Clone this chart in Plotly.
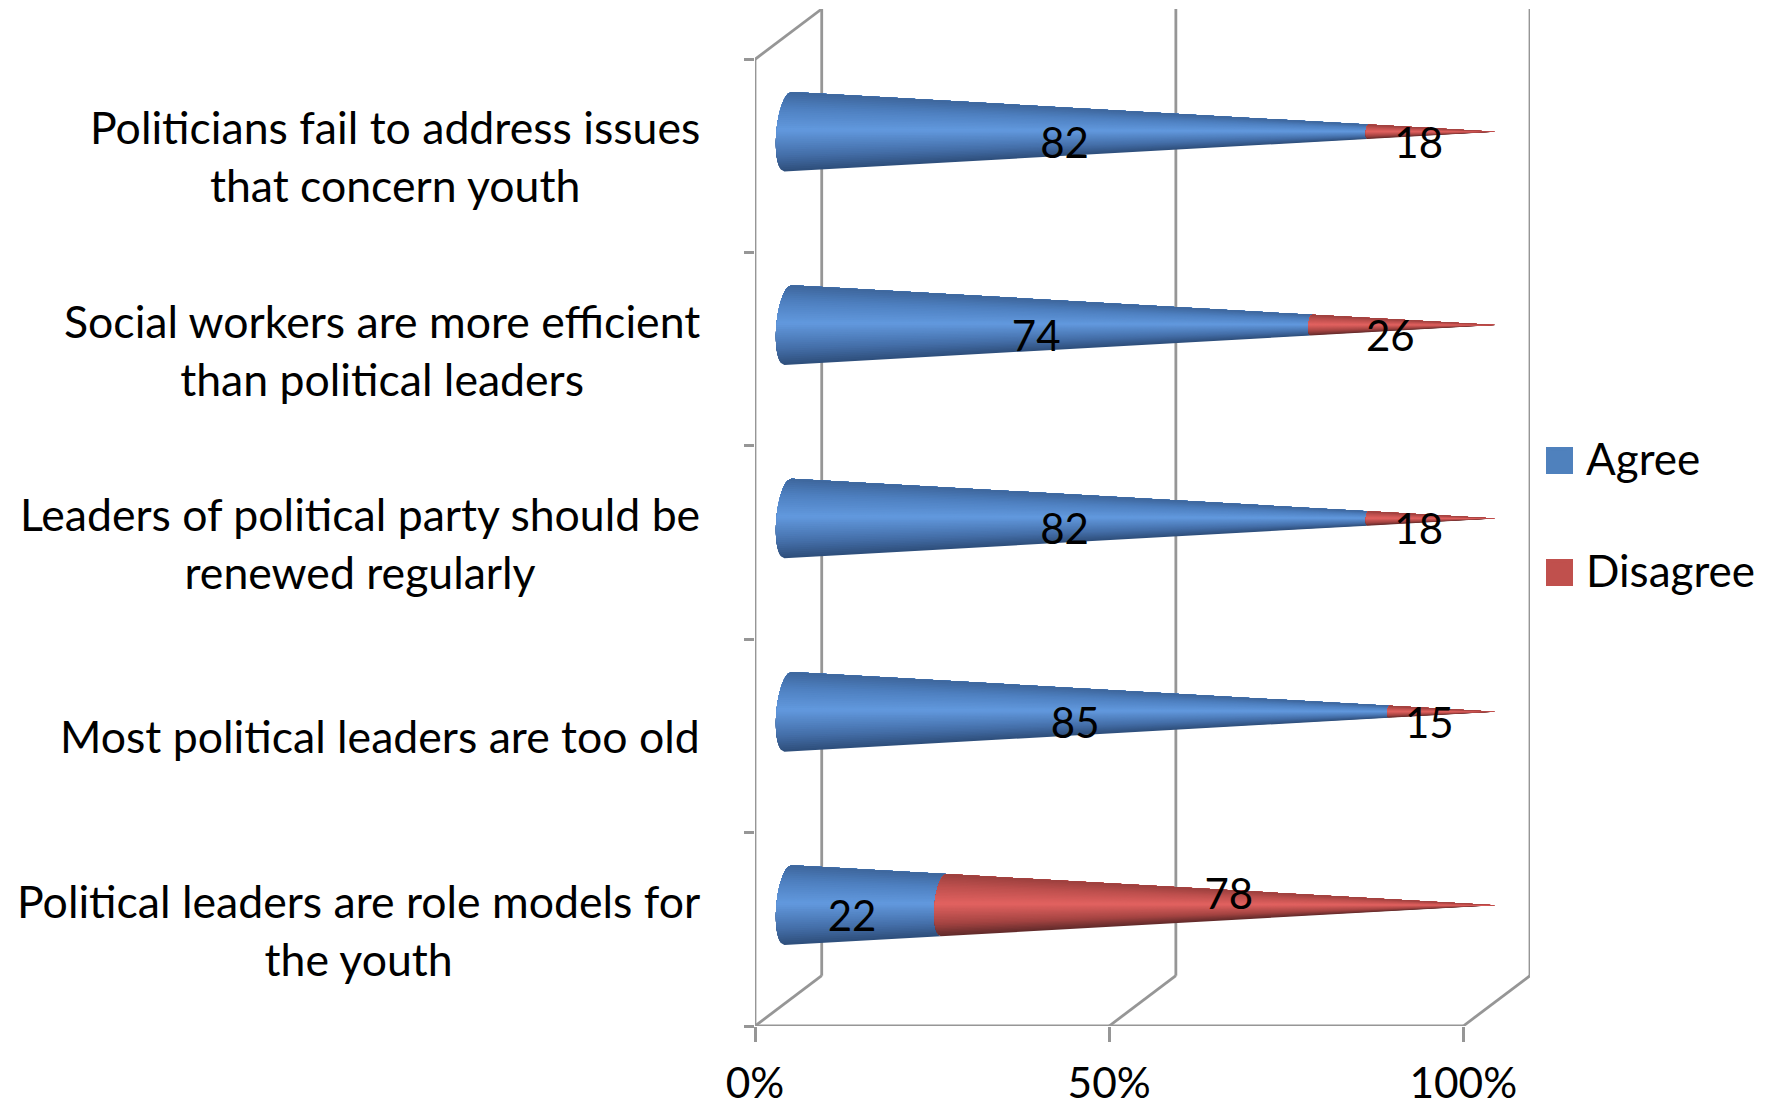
import plotly.graph_objects as go

# ---- data ----
categories = [
    "Political leaders are role models for<br>the youth",
    "Most political leaders are too old",
    "Leaders of political party should be<br>renewed regularly",
    "Social workers are more efficient<br>than political leaders",
    "Politicians fail to address issues<br>that concern youth",
]
agree = [22, 85, 82, 74, 82]
disagree = [78, 15, 18, 26, 18]
x_ticks = [0, 50, 100]
x_tick_labels = ["0%", "50%", "100%"]
series_names = ["Agree", "Disagree"]

# ---- styling ----
FONT = "Lato"
FS_CAT = 44.6
FS_TICK = 42.4
FS_VAL = 42
FS_LEG = 44
GRAY = "#969696"
DEPTH_X = 9.42      # axis-unit depth of the 3D box
DEPTH_Y = 0.26
N = len(categories)
NSTRIP = 40

# shading stops: (t from -1 bottom to +1 top, rgb)
BLUE_STOPS = [(-1, (46, 78, 122)), (-0.6, (68, 110, 168)), (0.05, (98, 153, 222)),
              (0.6, (78, 128, 192)), (1, (62, 102, 156))]
RED_STOPS = [(-1, (96, 42, 42)), (-0.6, (164, 68, 66)), (0.05, (226, 98, 96)),
             (0.6, (190, 80, 78)), (1, (156, 64, 62))]
LEGEND_BLUE = "#4f81bd"
LEGEND_RED = "#c0504d"


def shade(stops, t):
    for (t0, c0), (t1, c1) in zip(stops, stops[1:]):
        if t <= t1:
            u = (t - t0) / (t1 - t0)
            return "rgb(%d,%d,%d)" % tuple(round(a + (b - a) * u) for a, b in zip(c0, c1))
    return "rgb(%d,%d,%d)" % stops[-1][1]


BASE_CX = 4.65
BULGE = 1.63
TILT = 0.5
TIP_X = 104.5
RADIUS = 0.206
CONE_DROP = 0.005


def cone_point(row, t, f):
    """Point on the cone surface: t across (-1..1), f along, 0 base to 1 tip."""
    cy = row + 0.5 + DEPTH_Y / 2 - CONE_DROP
    bx = BASE_CX + TILT * t - BULGE * (max(0.0, 1 - t * t)) ** 0.5
    by = cy + RADIUS * t
    return bx + (TIP_X - bx) * f, by + (cy - by) * f


fig = go.Figure()


def wall(xs, ys):
    fig.add_trace(go.Scatter(x=xs, y=ys, mode="lines", line=dict(color=GRAY, width=2.8),
                             showlegend=False, hoverinfo="skip", cliponaxis=False))


# box lines, from the axis ticks
wall([0, 0], [0, N])
wall([0, DEPTH_X], [N, N + DEPTH_Y])
wall([0, 100], [0, 0])
for v in x_ticks:
    wall([v, v + DEPTH_X], [0, DEPTH_Y])
    wall([v + DEPTH_X, v + DEPTH_X], [DEPTH_Y, N + DEPTH_Y])

# cones: painted bottom-up, each polygon reaching the top edge, so there are no seams
for row in range(N):
    total = agree[row] + disagree[row]
    split = agree[row] / total
    for f0, f1, stops in ((0.0, split, BLUE_STOPS), (split, 1.0, RED_STOPS)):
        for i in range(NSTRIP):
            ts = [-1 + 2 * k / NSTRIP for k in range(i, NSTRIP + 1)]
            pts = [cone_point(row, t, f0) for t in ts] + [cone_point(row, t, f1) for t in reversed(ts)]
            pts.append(pts[0])
            col = shade(stops, -1 + 2 * (i + 0.5) / NSTRIP)
            fig.add_trace(go.Scatter(x=[p[0] for p in pts], y=[p[1] for p in pts],
                                     mode="none", fill="toself", fillcolor=col,
                                     showlegend=False, hoverinfo="skip"))

# value labels
SHIFT_X = 2.7
SHIFT_X_UP = 5.9
SHIFT_DOWN = 0.085
SHIFT_UP = 0.03
lx, ly, lt = [], [], []
for row in range(N):
    cy = row + 0.5 + DEPTH_Y / 2
    mid_a = agree[row] / 2
    mid_d = agree[row] + disagree[row] / 2
    up = disagree[row] > agree[row]
    lx += [mid_a + SHIFT_X, mid_d + (SHIFT_X_UP if up else SHIFT_X)]
    ly += [cy - SHIFT_DOWN, cy + SHIFT_UP if up else cy - SHIFT_DOWN]
    lt += [str(agree[row]), str(disagree[row])]
fig.add_trace(go.Scatter(x=lx, y=ly, text=lt, mode="text", textposition="middle center",
                         textfont=dict(family=FONT, size=FS_VAL, color="black"),
                         showlegend=False, hoverinfo="skip", cliponaxis=False))

# legend entries
for name, col in zip(series_names, (LEGEND_BLUE, LEGEND_RED)):
    fig.add_trace(go.Scatter(x=[None], y=[None], mode="markers", name=name, legendgroup=name,
                             marker=dict(symbol="square", size=16, color=col)))

# category labels
annotations = [
    dict(text=c, xref="paper", yref="y", x=0, y=i + 0.5, xshift=-53, xanchor="right",
         yanchor="middle", align="center", showarrow=False,
         font=dict(family=FONT, size=FS_CAT, color="black"))
    for i, c in enumerate(categories)
]

W, H = 1771, 1106
M_L, M_R, M_T, M_B = 755, 241, 9, 80
PW, PH = W - M_L - M_R, H - M_T - M_B


def px_x(p):
    return (p - M_L) / PW


def px_y(p):
    return 1 - (p - M_T) / PH


# legend swatches at their full size (legend markers are capped at 16 px)
SWATCH = 27
shapes = [
    dict(type="rect", xref="paper", yref="paper", x0=px_x(1546), x1=px_x(1546 + SWATCH),
         y0=px_y(top), y1=px_y(top + SWATCH), fillcolor=col, line=dict(width=0))
    for top, col in ((447, LEGEND_BLUE), (559, LEGEND_RED))
]

fig.update_layout(
    template="none",
    width=W, height=H, autosize=False,
    margin=dict(l=M_L, r=M_R, t=M_T, b=M_B, autoexpand=False),
    paper_bgcolor="white", plot_bgcolor="white",
    font=dict(family=FONT, size=FS_TICK, color="black"),
    xaxis=dict(range=[0, 100 + DEPTH_X], tickmode="array", tickvals=x_ticks, ticktext=x_tick_labels,
               automargin=False, showgrid=False, zeroline=False, showline=False, ticks="outside",
               ticklen=15, tickwidth=2.5, tickcolor=GRAY, ticklabelstandoff=5,
               tickfont=dict(family=FONT, size=FS_TICK, color="black")),
    yaxis=dict(range=[0, N + DEPTH_Y], tickmode="array", tickvals=list(range(N + 1)),
               automargin=False, showticklabels=False, showgrid=False, zeroline=False, showline=False,
               ticks="outside", ticklen=10, tickwidth=2.5, tickcolor=GRAY),
    legend=dict(x=1532 / W, xref="container", y=1 - 423 / H, yref="container",
                xanchor="left", yanchor="top",
                font=dict(family=FONT, size=FS_LEG), tracegroupgap=52, itemwidth=44,
                bgcolor="rgba(0,0,0,0)"),
    annotations=annotations,
    shapes=shapes,
)

fig.write_html("out.html", config={"displayModeBar": False},
               post_script="document.body.style.margin='0';")
